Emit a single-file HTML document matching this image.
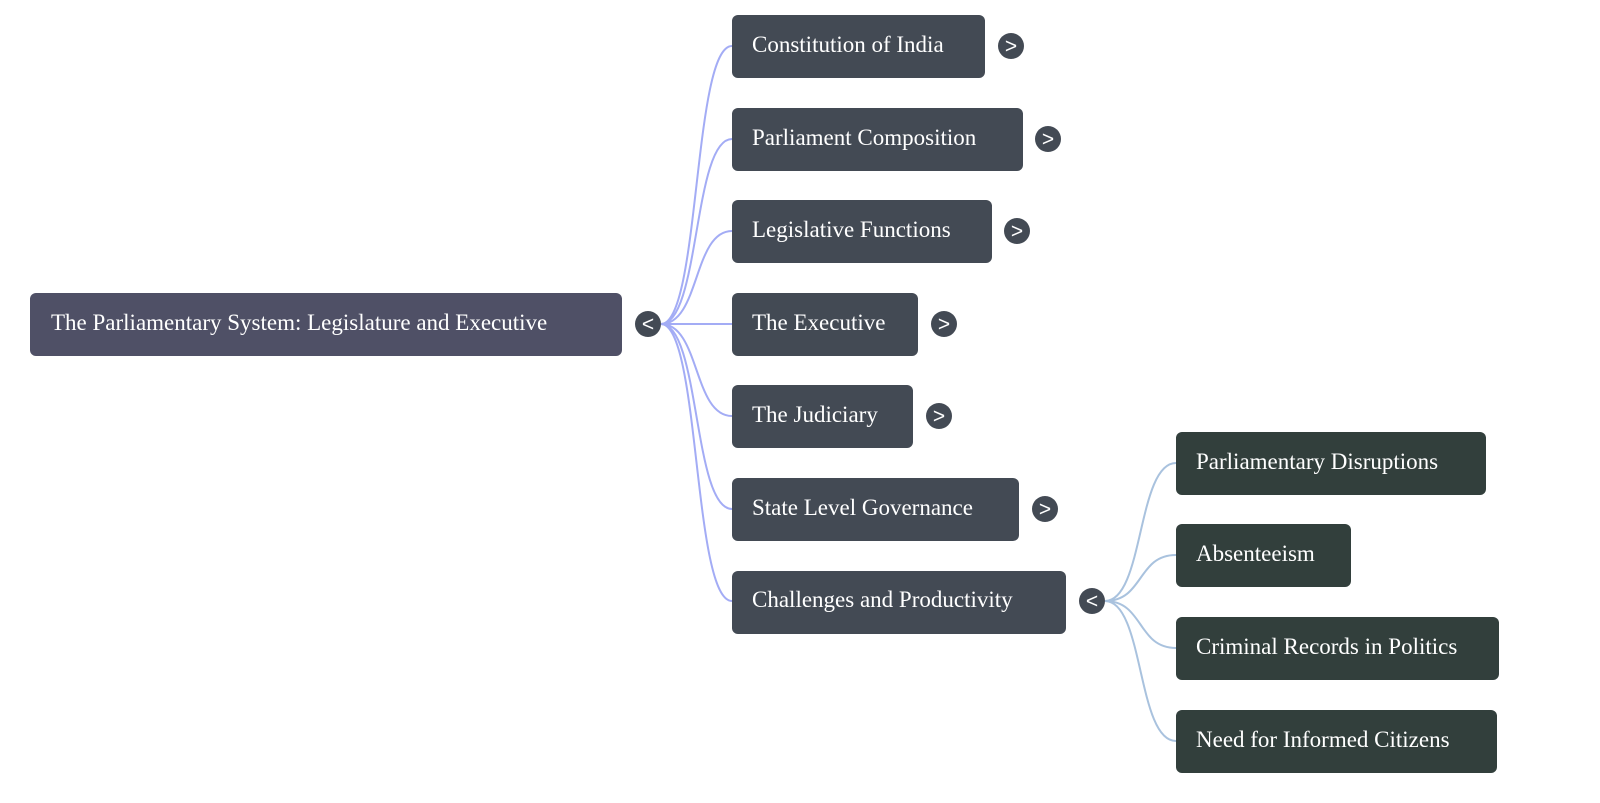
<!DOCTYPE html>
<html><head><style>html,body{margin:0;padding:0;background:#fff;overflow:hidden;width:100%;height:100%}svg{display:block;width:100vw;height:100vh}svg text{font-family:"Liberation Serif",serif;font-size:23px;fill:#fff}</style></head><body>
<svg viewBox="0 0 1600 803" preserveAspectRatio="none" xmlns="http://www.w3.org/2000/svg">
<g fill="none" stroke="#a3acf5" stroke-width="2">
<path d="M661 324 C700 324 693 46 732 46"/>
<path d="M661 324 C700 324 693 139 732 139"/>
<path d="M661 324 C700 324 693 231 732 231"/>
<path d="M661 324 L732 324"/>
<path d="M661 324 C700 324 693 416 732 416"/>
<path d="M661 324 C700 324 693 509 732 509"/>
<path d="M661 324 C700 324 693 601 732 601"/>
</g>
<g fill="none" stroke="#a9c2de" stroke-width="2">
<path d="M1105 601 C1144 601 1137 463 1176 463"/>
<path d="M1105 601 C1144 601 1137 555 1176 555"/>
<path d="M1105 601 C1144 601 1137 648 1176 648"/>
<path d="M1105 601 C1144 601 1137 741 1176 741"/>
</g>
<rect x="30" y="293" width="592" height="63" rx="6" fill="#4f5066"/>
<text x="51" y="330">The Parliamentary System: Legislature and Executive</text>
<g fill="#434a54">
<rect x="732" y="15" width="253" height="63" rx="6"/>
<rect x="732" y="108" width="291" height="63" rx="6"/>
<rect x="732" y="200" width="260" height="63" rx="6"/>
<rect x="732" y="293" width="186" height="63" rx="6"/>
<rect x="732" y="385" width="181" height="63" rx="6"/>
<rect x="732" y="478" width="287" height="63" rx="6"/>
<rect x="732" y="571" width="334" height="63" rx="6"/>
<circle cx="648" cy="324" r="13"/>
<circle cx="1011" cy="46" r="13"/>
<circle cx="1048" cy="139" r="13"/>
<circle cx="1017" cy="231" r="13"/>
<circle cx="944" cy="324" r="13"/>
<circle cx="939" cy="416" r="13"/>
<circle cx="1045" cy="509" r="13"/>
<circle cx="1092" cy="601" r="13"/>
</g>
<text x="752" y="52">Constitution of India</text>
<text x="752" y="145">Parliament Composition</text>
<text x="752" y="237">Legislative Functions</text>
<text x="752" y="330">The Executive</text>
<text x="752" y="422">The Judiciary</text>
<text x="752" y="515">State Level Governance</text>
<text x="752" y="607">Challenges and Productivity</text>
<g text-anchor="middle">
<text x="648" y="331" style="font-family:'Liberation Sans',sans-serif;font-size:21px">&lt;</text>
<text x="1011" y="53" style="font-family:'Liberation Sans',sans-serif;font-size:21px">&gt;</text>
<text x="1048" y="146" style="font-family:'Liberation Sans',sans-serif;font-size:21px">&gt;</text>
<text x="1017" y="238" style="font-family:'Liberation Sans',sans-serif;font-size:21px">&gt;</text>
<text x="944" y="331" style="font-family:'Liberation Sans',sans-serif;font-size:21px">&gt;</text>
<text x="939" y="423" style="font-family:'Liberation Sans',sans-serif;font-size:21px">&gt;</text>
<text x="1045" y="516" style="font-family:'Liberation Sans',sans-serif;font-size:21px">&gt;</text>
<text x="1092" y="608" style="font-family:'Liberation Sans',sans-serif;font-size:21px">&lt;</text>
</g>
<g fill="#323f3c">
<rect x="1176" y="432" width="310" height="63" rx="6"/>
<rect x="1176" y="524" width="175" height="63" rx="6"/>
<rect x="1176" y="617" width="323" height="63" rx="6"/>
<rect x="1176" y="710" width="321" height="63" rx="6"/>
</g>
<text x="1196" y="469">Parliamentary Disruptions</text>
<text x="1196" y="561">Absenteeism</text>
<text x="1196" y="654">Criminal Records in Politics</text>
<text x="1196" y="747">Need for Informed Citizens</text>
</svg>
</body></html>
